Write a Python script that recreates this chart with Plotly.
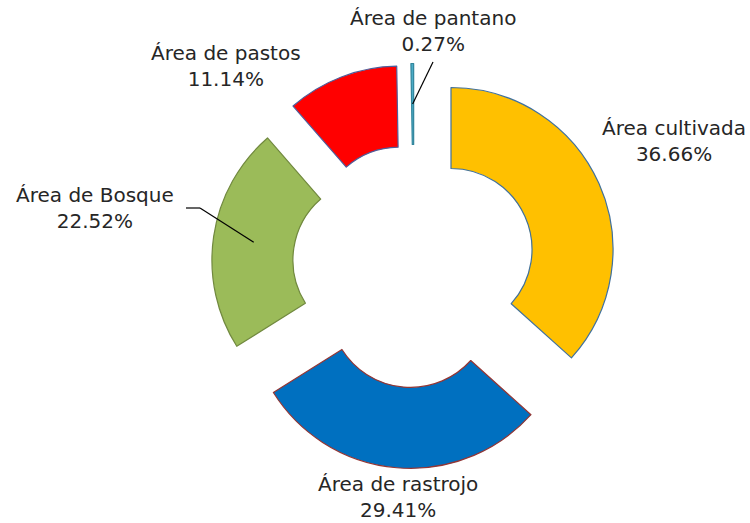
import math
import plotly.graph_objects as go

# Land-use shares (percent), drawn clockwise from 12 o'clock
categories = ["Área cultivada", "Área de rastrojo", "Área de Bosque", "Área de pastos", "Área de pantano"]
shares = [36.66, 29.41, 22.52, 11.14, 0.27]

fill_colors = ["#FFC000", "#0070C0", "#9BBB59", "#FF0000", "#4BACC6"]
edge_colors = ["#41719C", "#943634", "#71893F", "#4F5E9B", "#31859C"]

W, H = 750, 523
PULL = 0.25
HOLE = 0.5

# Square pie domain in pixels (outer extent includes the pull)
cx_px, cy_px, extent_px = 414, 266, 202.5
dom_x = [(cx_px - extent_px) / W, (cx_px + extent_px) / W]
dom_y = [1 - (cy_px + extent_px) / H, 1 - (cy_px - extent_px) / H]
R_px = extent_px / (1 + PULL)

fig = go.Figure(
    go.Pie(
        labels=categories,
        values=shares,
        sort=False,
        direction="clockwise",
        rotation=0,
        hole=HOLE,
        pull=[PULL] * len(shares),
        marker=dict(colors=fill_colors, line=dict(color=edge_colors, width=1.2)),
        textinfo="none",
        hoverinfo="label+percent",
        domain=dict(x=dom_x, y=dom_y),
        showlegend=False,
    )
)

# Label placement (pixel centres of the two-line text blocks)
label_pos = {
    "Área cultivada": (674, 141),
    "Área de rastrojo": (398, 497),
    "Área de Bosque": (95, 208),
    "Área de pastos": (226, 66),
    "Área de pantano": (433, 31),
}

font = dict(family="DejaVu Sans", size=20, color="#262626")
for name, val in zip(categories, shares):
    x, y = label_pos[name]
    fig.add_annotation(
        x=x / W, y=1 - y / H, xref="paper", yref="paper",
        text=f"{name}<br>{val:.2f}%", showarrow=False,
        xanchor="center", yanchor="middle", font=font, align="center",
    )

# Leader lines: from label to the mid-ring point of the slice
total = sum(shares)
cum = 0.0
mids = {}
for name, val in zip(categories, shares):
    mids[name] = (cum + val / 2) / total * 2 * math.pi
    cum += val


def ring_point(name):
    a = mids[name]
    # slice centre offset by PULL*R, then mid-ring radius
    off = PULL * R_px + R_px * (1 + HOLE) / 2
    return cx_px + off * math.sin(a), cy_px - off * math.cos(a)


def line(x0, y0, x1, y1):
    fig.add_shape(
        type="line", xref="paper", yref="paper",
        x0=x0 / W, y0=1 - y0 / H, x1=x1 / W, y1=1 - y1 / H,
        line=dict(color="black", width=1.2),
    )


px_, py_ = ring_point("Área de pantano")
line(433, 62, px_, py_)

bx, by = ring_point("Área de Bosque")
line(186, 208, 200, 208)
line(200, 208, bx, by)

fig.update_layout(
    width=W, height=H,
    margin=dict(l=0, r=0, t=0, b=0),
    paper_bgcolor="white",
    plot_bgcolor="white",
)

fig.write_html("out.html")
